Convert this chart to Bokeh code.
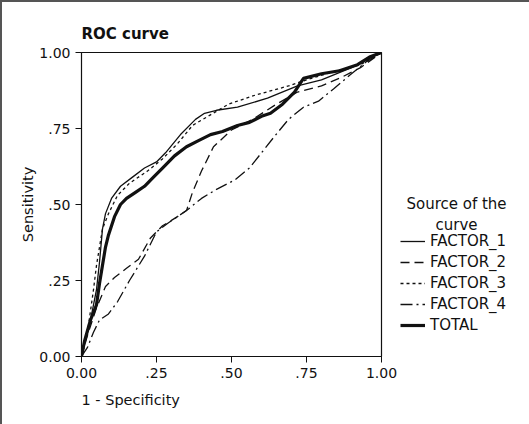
from bokeh.plotting import figure
from bokeh.layouts import row
from bokeh.models import Legend, LegendItem, FixedTicker, Title, Label
from bokeh.embed import file_html
from bokeh.resources import INLINE

# ---- data ----
f1_x = [0, 0.01, 0.03, 0.05, 0.06, 0.07, 0.08, 0.10, 0.13, 0.17, 0.21, 0.25, 0.28, 0.33, 0.38, 0.41, 0.45, 0.52, 0.62, 0.72, 0.80, 0.90, 1.0]
f1_y = [0, 0.04, 0.12, 0.22, 0.31, 0.42, 0.47, 0.52, 0.56, 0.59, 0.62, 0.64, 0.67, 0.73, 0.78, 0.80, 0.81, 0.82, 0.85, 0.89, 0.91, 0.95, 1.0]

f2_x = [0, 0.02, 0.05, 0.08, 0.11, 0.15, 0.19, 0.23, 0.27, 0.32, 0.35, 0.37, 0.40, 0.44, 0.50, 0.57, 0.65, 0.72, 0.80, 0.87, 0.93, 1.0]
f2_y = [0, 0.07, 0.16, 0.23, 0.26, 0.29, 0.32, 0.39, 0.43, 0.46, 0.48, 0.54, 0.61, 0.69, 0.745, 0.78, 0.83, 0.87, 0.89, 0.92, 0.95, 1.0]

f3_x = [0, 0.02, 0.03, 0.04, 0.05, 0.06, 0.07, 0.09, 0.12, 0.16, 0.22, 0.27, 0.32, 0.37, 0.43, 0.49, 0.58, 0.69, 0.75, 0.85, 0.93, 1.0]
f3_y = [0, 0.08, 0.15, 0.22, 0.30, 0.36, 0.42, 0.47, 0.53, 0.57, 0.61, 0.65, 0.70, 0.76, 0.795, 0.83, 0.86, 0.89, 0.91, 0.94, 0.96, 1.0]

f4_x = [0, 0.02, 0.04, 0.06, 0.09, 0.12, 0.16, 0.21, 0.25, 0.29, 0.35, 0.40, 0.45, 0.51, 0.56, 0.60, 0.64, 0.69, 0.74, 0.79, 0.84, 0.90, 0.95, 1.0]
f4_y = [0, 0.03, 0.08, 0.12, 0.14, 0.18, 0.25, 0.33, 0.41, 0.44, 0.48, 0.52, 0.55, 0.58, 0.62, 0.67, 0.72, 0.78, 0.82, 0.84, 0.88, 0.93, 0.97, 1.0]

tot_x = [0, 0.01, 0.03, 0.05, 0.06, 0.07, 0.08, 0.09, 0.11, 0.13, 0.15, 0.18, 0.21, 0.24, 0.27, 0.31, 0.35, 0.39, 0.43, 0.47, 0.52, 0.56, 0.60, 0.63, 0.67, 0.71, 0.73, 0.74, 0.80, 0.86, 0.92, 0.96, 1.0]
tot_y = [0, 0.05, 0.12, 0.17, 0.24, 0.30, 0.36, 0.40, 0.46, 0.50, 0.52, 0.54, 0.56, 0.59, 0.62, 0.66, 0.69, 0.71, 0.73, 0.74, 0.76, 0.77, 0.79, 0.80, 0.83, 0.87, 0.90, 0.915, 0.93, 0.94, 0.96, 0.985, 1.0]

tick_vals = [0, 0.25, 0.5, 0.75, 1.0]
tick_labels = ["0.00", ".25", ".50", ".75", "1.00"]
series_names = ["FACTOR_1", "FACTOR_2", "FACTOR_3", "FACTOR_4", "TOTAL"]
legend_title_lines = ["Source of the", "curve"]

series = [(f1_x, f1_y), (f2_x, f2_y), (f3_x, f3_y), (f4_x, f4_y), (tot_x, tot_y)]
styles = [dict(line_width=1.3), dict(line_width=1.3, line_dash="9 5"),
          dict(line_width=1.3, line_dash="3 3"), dict(line_width=1.3, line_dash="12 4 2 4"),
          dict(line_width=3.2)]

FONT = "DejaVu Sans"
INK = "#111111"

# ---- main plot ----
p = figure(width=398, height=422, output_backend="svg", toolbar_location=None,
           x_range=(0, 1), y_range=(0, 1),
           min_border_left=79, min_border_right=19, min_border_top=50, min_border_bottom=68)
p.background_fill_color = "white"
p.border_fill_color = "white"
p.outline_line_color = INK
p.outline_line_width = 1.2
p.grid.visible = False

p.title.text = "ROC curve"
p.title.align = "left"
p.title.text_font = FONT
p.title.text_font_size = "15px"
p.title.text_font_style = "bold"
p.title.text_color = INK
p.title.standoff = 20

for ax in (p.xaxis[0], p.yaxis[0]):
    ax.ticker = FixedTicker(ticks=tick_vals)
    ax.major_label_overrides = {v: l for v, l in zip(tick_vals, tick_labels)}
    ax.minor_tick_line_color = None
    ax.major_tick_out = 6
    ax.major_tick_in = 0
    ax.major_label_text_font = FONT
    ax.major_label_text_font_size = "14px"
    ax.major_label_text_color = INK
    ax.axis_line_color = INK
    ax.major_tick_line_color = INK
    ax.axis_label_text_font = FONT
    ax.axis_label_text_font_size = "14.5px"
    ax.axis_label_text_font_style = "normal"
    ax.axis_label_text_color = INK

p.yaxis[0].axis_label = "Sensitivity"
p.yaxis[0].axis_label_standoff = 0
p.yaxis[0].major_label_standoff = 5
p.xaxis[0].major_label_standoff = 5

xt = Title(text="1 - Specificity", align="left", text_font=FONT, text_font_size="14.5px",
           text_font_style="normal", text_color=INK, standoff=18)
p.add_layout(xt, "below")

for (xs, ys), st in zip(series, styles):
    p.line(xs, ys, line_color=INK, **st)

# ---- legend panel (same series, drawn out of view so only legend glyphs show) ----
q = figure(width=129, height=422, output_backend="svg", toolbar_location=None,
           x_range=(10, 11), y_range=(10, 11), x_axis_location=None, y_axis_location=None,
           min_border_left=0, min_border_right=0, min_border_top=0, min_border_bottom=0)
q.outline_line_color = None
q.grid.visible = False
q.background_fill_color = "white"
q.border_fill_color = "white"
renderers = [q.line(xs, ys, line_color=INK, **st) for (xs, ys), st in zip(series, styles)]

legend = Legend(items=[LegendItem(label=n, renderers=[r]) for n, r in zip(series_names, renderers)],
                location=(0, 22), orientation="vertical",
                glyph_width=25, glyph_height=16, label_height=16, spacing=3,
                label_standoff=5, padding=0, margin=0,
                label_text_font=FONT, label_text_font_size="15px", label_text_color=INK,
                border_line_color=None, background_fill_alpha=0)
q.add_layout(legend, "center")

for txt, yy in zip(legend_title_lines, [153, 132]):
    q.add_layout(Label(x=56, y=yy, x_units="screen", y_units="screen", text=txt,
                       text_align="center", text_baseline="middle",
                       text_font=FONT, text_font_size="15px", text_color=INK))

layout = row(p, q, spacing=0)
layout.styles = {"border-top": "2px solid #555", "border-left": "2px solid #555"}

open("out.html", "w").write(file_html(layout, INLINE))
